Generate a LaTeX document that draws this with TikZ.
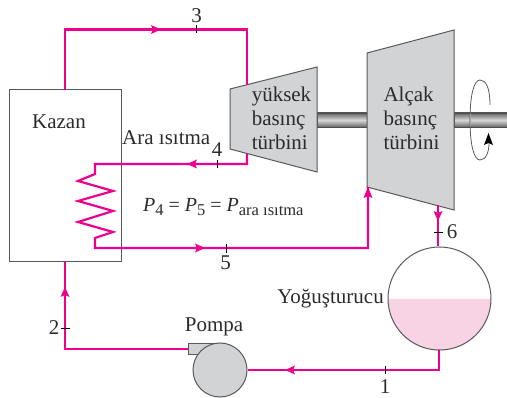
\documentclass[tikz,border=0pt]{standalone}
\usepackage{fontspec}
\setmainfont{Liberation Serif}
\usetikzlibrary{arrows.meta,positioning,calc}
\definecolor{pipe}{HTML}{EC008C}
\definecolor{liquid}{HTML}{F8D3E4}
\definecolor{body}{HTML}{D1D3D4}
\definecolor{edge}{HTML}{58595B}
\definecolor{ink}{HTML}{2B2B2B}
\newcommand{\lowidx}[1]{\raisebox{-4pt}{\fontsize{16.5}{18}\selectfont #1}}
\tikzset{
  lbl/.style={inner sep=0pt,text=ink,font=\fontsize{21}{24}\selectfont,align=left},
  machine/.style={draw=edge,fill=body,line width=1pt},
  conn/.style={draw=pipe,line width=2.2pt},
  arr/.style={fill=pipe},
  tick/.style={draw=black,line width=.7pt},
  shaft/.style={draw=black!70,line width=.6pt,top color=black!60,bottom color=black!60,middle color=black!15}
}
\begin{document}
\begin{tikzpicture}[x=1pt,y=-1pt]
  \useasboundingbox (0,0) rectangle (507,398);
  % shafts first, turbines over them
  \path[shaft] (317,113) rectangle (368,127);
  \path[shaft] (454,113) rectangle (507,127);
  \node[draw=edge,line width=1pt,minimum width=112pt,minimum height=172pt,inner sep=0pt] (kazan) at (65.5,176) {};
  \node[lbl] (kazanlbl) at (59,122) {Kazan};
  \draw[machine] (230,89) -- (317,67) -- (317,172) -- (230,149) -- cycle;
  \draw[machine] (367,53) -- (454,30) -- (454,210) -- (367,187) -- cycle;
  \node[lbl] (hplbl) at (281.5,118) {yüksek\\basınç\\türbini};
  \node[lbl] (lplbl) at (411.5,118) {Alçak\\basınç\\türbini};
  \coordinate (kazanout) at (65,90);
  \coordinate (kazanin) at (65,262);
  \coordinate (hpin) at (247,85);
  \coordinate (hpout) at (247,154);
  \coordinate (lpin) at (368,187);
  \coordinate (lpout) at (438,205);
  % pump
  \draw[machine] (188,344) rectangle (214,355);
  \node[circle,machine,minimum size=54pt,inner sep=0pt] (pompa) at (220,370) {};
  \node[lbl,above=6pt of pompa.north,xshift=-6pt] (pompalbl) {Pompa};
  % condenser
  \fill[liquid] (388,299) arc[start angle=180,end angle=360,radius=51.5pt] -- cycle;
  \node[circle,draw=edge,line width=1pt,minimum size=103pt,inner sep=0pt] (yog) at (439.5,298.5) {};
  \node[lbl,anchor=east] (yoglbl) at (384,299) {Yoğuşturucu};
  % pipes
  \draw[conn] (kazanout) -- (65,29.5) -- (247,29.5) -- (hpin);
  \draw[conn] (hpout) -- (247,164) -- (95,164) -- (95,174) -- (78,181) -- (113,191) -- (78,201) -- (113,211) -- (78,222) -- (113,232) -- (95,238) -- (95,248) -- (368,248) -- (lpin);
  \draw[conn] (kazanin) -- (65,349) -- (188,349);
  \draw[conn] (pompa.east) -- (439,370) -- (yog.south -| 439,0);
  \draw[conn] (lpout) -- (yog.north -| 438,0);
  % arrow heads
  \fill[arr] (161,29.5) -- (151,25) -- (153,29.5) -- (151,34) -- cycle;
  \fill[arr] (187,164) -- (197,159.5) -- (195,164) -- (197,168.5) -- cycle;
  \fill[arr] (205,248) -- (195,243.5) -- (197,248) -- (195,252.5) -- cycle;
  \fill[arr] (368,187) -- (363.5,198) -- (368,196) -- (372.5,198) -- cycle;
  \fill[arr] (65,287) -- (60.5,297) -- (65,295) -- (69.5,297) -- cycle;
  \fill[arr] (285,370) -- (295,365.5) -- (293,370) -- (295,374.5) -- cycle;
  \fill[arr] (438,221) -- (433.5,211) -- (438,213) -- (442.5,211) -- cycle;
  % state points
  \draw[tick] (196,25.5) -- (196,33.5);
  \draw[tick] (217,160) -- (217,168);
  \draw[tick] (226,244) -- (226,253);
  \draw[tick] (61,328.5) -- (70,328.5);
  \draw[tick] (385,366) -- (385,374);
  \draw[tick] (434,232) -- (443,232);
  \node[lbl] (p3) at (196.5,16) {3};
  \node[lbl] (p4) at (217,150) {4};
  \node[lbl] (p5) at (225.5,263) {5};
  \node[lbl] (p2) at (54,328) {2};
  \node[lbl] (p1) at (385,387) {1};
  \node[lbl] (p6) at (452,232) {6};
  \node[lbl,anchor=west] (ara) at (122,138) {Ara ısıtma};
  \node[lbl,anchor=west,font=\fontsize{20}{22}\selectfont] (eq) at (143,207) {\textit{P}\lowidx{4} = \textit{P}\lowidx{5} = \textit{P}\lowidx{ara ısıtma}};
  % rotation
  \draw[draw=white!80!black,line width=1pt] (470,113) -- (470,127);
  \draw[draw=edge,line width=.8pt] (490,105) .. controls (490,88) and (486,80) .. (480,80) .. controls (474,80) and (470,95) .. (470,120) .. controls (470,145) and (474,160) .. (480,160) .. controls (486,160) and (489,152) .. (489,143);
  \fill[black] (488.5,133) -- (484,145) -- (488.5,143) -- (493,145) -- cycle;
\end{tikzpicture}
\end{document}
